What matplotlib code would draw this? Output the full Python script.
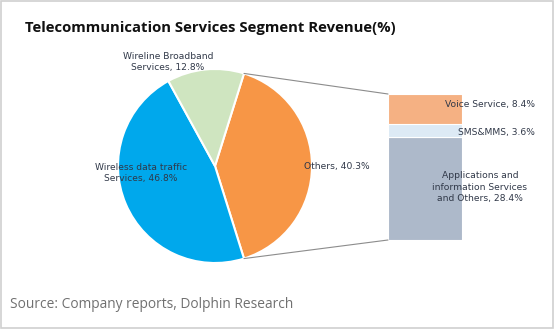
import numpy as np
import matplotlib
matplotlib.use("Agg")
import matplotlib.pyplot as plt
from matplotlib.patches import ConnectionPatch, Rectangle

# Data
pie_labels = ["Others, 40.3%", "Wireless data traffic\nServices, 46.8%", "Wireline Broadband\nServices, 12.8%"]
pie_values = [40.3, 46.8, 12.8]
pie_colors = ["#F79646", "#00A8EC", "#CFE5C0"]

bar_labels = ["Applications and\ninformation Services\nand Others, 28.4%", "SMS&MMS, 3.6%", "Voice Service, 8.4%"]
bar_values = [28.4, 3.6, 8.4]
bar_colors = ["#ADB9CA", "#DDEAF5", "#F5B183"]

W, H = 554, 329
fig = plt.figure(figsize=(W / 100, H / 100), dpi=100)
fig.patch.set_facecolor("white")
ax = fig.add_axes([0, 0, 1, 1])
ax.set_xlim(0, W)
ax.set_ylim(0, H)
ax.set_aspect("equal")
ax.axis("off")

# frame
ax.add_patch(Rectangle((1, 1), W - 2, H - 2, fill=False, ec="#D0D0D0", lw=1.2))

cx, cy, r = 215, H - 166, 97
total = sum(pie_values)
start = pie_values[0] / total * 360 / 2
wedges, _ = ax.pie(pie_values, colors=pie_colors, startangle=start, counterclock=False,
                   center=(cx, cy), radius=r, frame=True,
                   wedgeprops=dict(edgecolor="white", linewidth=1.5))
ax.set_xlim(0, W)
ax.set_ylim(0, H)
ax.axis("off")

lab_kw = dict(fontsize=6.6, color="#303848", family="DejaVu Sans")
ax.text(337, H - 167, pie_labels[0], ha="center", va="center", **lab_kw)
ax.text(141, H - 173, pie_labels[1], ha="center", va="center", linespacing=1.3, **lab_kw)
ax.text(168, H - 62, pie_labels[2], ha="center", va="center", linespacing=1.3, **lab_kw)

# bar of pie
bx = fig.add_axes([388 / W, (H - 240) / H, 74 / W, 146 / H])
bx.axis("off")
bottom = 0
for v, c in zip(bar_values, bar_colors):
    bx.bar(0, v, bottom=bottom, width=1, color=c, edgecolor="white", linewidth=0.8)
    bottom += v
bx.set_xlim(-0.5, 0.5)
bx.set_ylim(0, bottom)

fig.text(535 / W, 1 - 105 / H, bar_labels[2], ha="right", va="center", zorder=5, **lab_kw)
fig.text(535 / W, 1 - 133 / H, bar_labels[1], ha="right", va="center", zorder=5, **lab_kw)
fig.text(480 / W, 1 - 187 / H, bar_labels[0], ha="center", va="center", linespacing=1.35, zorder=5, **lab_kw)

# connector lines
t1 = np.deg2rad(start)
t2 = np.deg2rad(-start)
for t, yb in [(t1, bottom), (t2, 0)]:
    p = (cx + r * np.cos(t), cy + r * np.sin(t))
    con = ConnectionPatch(xyA=p, coordsA=ax.transData, xyB=(-0.5, yb), coordsB=bx.transData,
                          color="#8C8C8C", lw=0.8)
    fig.add_artist(con)

fig.text(25 / W, 1 - 28 / H, "Telecommunication Services Segment Revenue(%)",
         fontsize=10.7, fontweight="bold", family="Open Sans", ha="left", va="center", color="#111111")
fig.text(10 / W, 1 - 305 / H, "Source: Company reports, Dolphin Research",
         fontsize=9.9, family="Open Sans", ha="left", va="center", color="#707070")

fig.savefig("out.png", dpi=100, facecolor="white")
